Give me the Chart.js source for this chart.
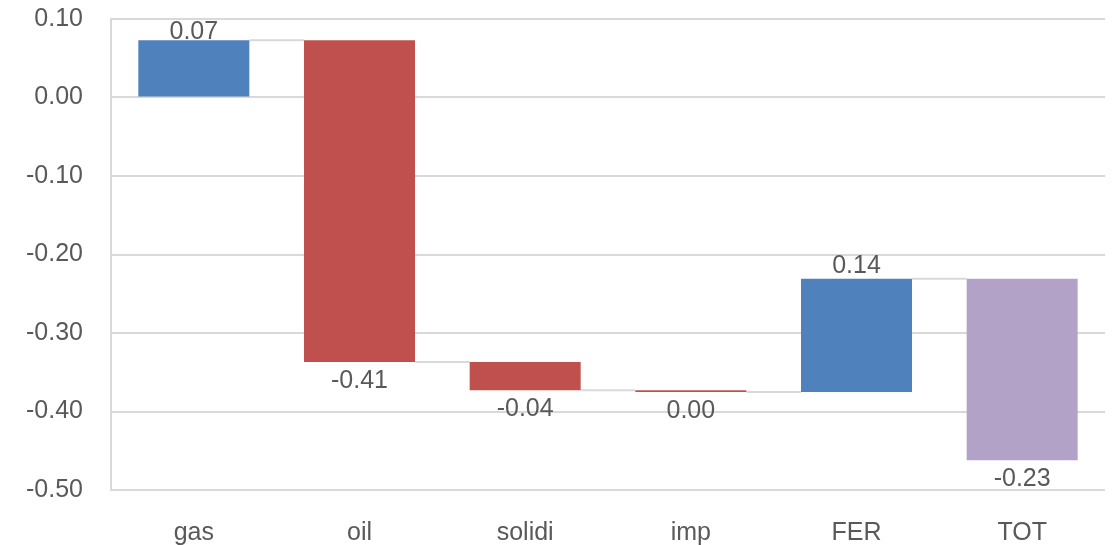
<!DOCTYPE html>
<html>
<head>
<meta charset="utf-8">
<script src="https://cdn.jsdelivr.net/npm/chart.js@4"></script>
<style>
  html, body { margin: 0; padding: 0; background: #ffffff; }
  #wrap { width: 1112px; height: 545px; }
</style>
</head>
<body>
<div id="wrap"><canvas id="chart" width="1112" height="545"></canvas></div>
<script>
// Contributions by source and the resulting total
const categories = ['gas', 'oil', 'solidi', 'imp', 'FER', 'TOT'];
const changes    = [0.073, -0.410, -0.036, -0.002, 0.144, -0.231];
const kinds      = ['step', 'step', 'step', 'step', 'step', 'total'];
const yTicks     = [0.10, 0.00, -0.10, -0.20, -0.30, -0.40, -0.50];

const COLORS = { up: '#4f81bd', down: '#c0504d', total: '#b2a2c7' };
const TEXT = '#595959';
const GRID = '#d9d9d9';
const FONT = "'Liberation Sans', Arial, sans-serif";

// Floating ranges: each bar starts where the previous one ended
const ranges = [];
let running = 0;
changes.forEach((v) => {
  const start = running;
  const end = running + v;
  ranges.push([start, end]);
  running = end;
});

const fmt = (v) => (Math.round(v * 100) / 100).toFixed(2);

const barColors = changes.map((v, i) =>
  kinds[i] === 'total' ? COLORS.total : (v >= 0 ? COLORS.up : COLORS.down));

// Grey connector lines between consecutive bars
const connectors = {
  id: 'connectors',
  beforeDatasetsDraw(chart) {
    const ctx = chart.ctx;
    const meta = chart.getDatasetMeta(0);
    const y = chart.scales.y;
    ctx.save();
    ctx.strokeStyle = GRID;
    ctx.lineWidth = 2;
    for (let i = 0; i < meta.data.length - 1; i++) {
      const a = meta.data[i], b = meta.data[i + 1];
      const py = y.getPixelForValue(ranges[i][1]);
      ctx.beginPath();
      ctx.moveTo(a.x + a.width / 2, py);
      ctx.lineTo(b.x - b.width / 2, py);
      ctx.stroke();
    }
    ctx.restore();
  }
};

// Value labels above rising bars, below falling ones
const valueLabels = {
  id: 'valueLabels',
  afterDatasetsDraw(chart) {
    const ctx = chart.ctx;
    const meta = chart.getDatasetMeta(0);
    const area = chart.chartArea;
    ctx.save();
    ctx.font = '25px ' + FONT;
    ctx.fillStyle = TEXT;
    ctx.textAlign = 'center';
    ctx.textBaseline = 'alphabetic';
    meta.data.forEach((bar, i) => {
      const top = Math.min(bar.y, bar.base);
      const bottom = Math.max(bar.y, bar.base);
      const v = changes[i];
      let ty;
      if (v >= 0) ty = Math.max(top - 6, area.top + 20);
      else ty = bottom + 26;
      ctx.fillText(fmt(v), bar.x, ty);
    });
    ctx.restore();
  }
};

new Chart(document.getElementById('chart'), {
  type: 'bar',
  data: {
    labels: categories,
    datasets: [{
      data: ranges,
      backgroundColor: barColors,
      borderWidth: 0,
      categoryPercentage: 1,
      barPercentage: 0.67
    }]
  },
  options: {
    responsive: false,
    animation: false,
    layout: { padding: { top: 19, right: 7, left: 0, bottom: 0 } },
    plugins: { legend: { display: false }, tooltip: { enabled: false } },
    scales: {
      x: {
        grid: { display: false, drawTicks: false },
        border: { display: false },
        ticks: { color: TEXT, font: { family: FONT, size: 25 }, padding: 28 },
        afterFit(scale) { scale.height = 55; scale.paddingLeft = 0; scale.paddingRight = 0; }
      },
      y: {
        min: Math.min(...yTicks),
        max: Math.max(...yTicks),
        afterBuildTicks(scale) { scale.ticks = yTicks.map((v) => ({ value: v })); },
        grid: { color: GRID, lineWidth: 2, drawTicks: false },
        border: { display: true, color: GRID, width: 2 },
        ticks: {
          color: TEXT,
          font: { family: FONT, size: 25 },
          padding: 28,
          callback: (v) => Number(v).toFixed(2)
        },
        afterFit(scale) { scale.width = 111; scale.paddingTop = 0; scale.paddingBottom = 0; }
      }
    }
  },
  plugins: [connectors, valueLabels]
});
</script>
</body>
</html>
